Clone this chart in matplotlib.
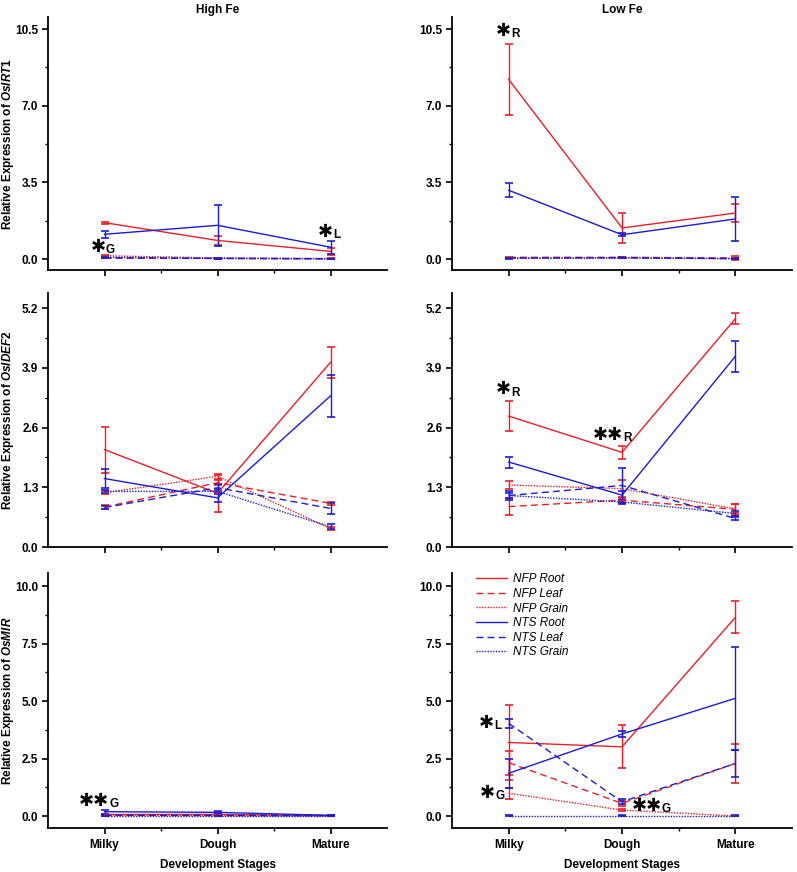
import numpy as np
import matplotlib.pyplot as plt
from matplotlib.lines import Line2D

plt.rcParams['font.family'] = ['Liberation Sans', 'DejaVu Sans']
plt.rcParams['font.weight'] = 'bold'
plt.rcParams['mathtext.fontset'] = 'custom'
plt.rcParams['mathtext.it'] = 'Liberation Sans:bold:italic'
plt.rcParams['mathtext.rm'] = 'Liberation Sans:bold'

stages = ['Milky', 'Dough', 'Mature']
series = ['NFP Root', 'NFP Leaf', 'NFP Grain', 'NTS Root', 'NTS Leaf', 'NTS Grain']

# values per series (rows follow `series`), columns follow `stages`
irt1_high = [[1.66, 0.85, 0.35],
             [0.05, 0.03, 0.02],
             [0.15, 0.05, 0.02],
             [1.13, 1.54, 0.54],
             [0.05, 0.03, 0.01],
             [0.08, 0.03, 0.01]]
irt1_high_err = [[0.05, 0.20, 0.15],
                 [0.02, 0.01, 0.01],
                 [0.03, 0.02, 0.01],
                 [0.17, 0.95, 0.30],
                 [0.02, 0.01, 0.01],
                 [0.02, 0.01, 0.01]]

irt1_low = [[8.20, 1.42, 2.10],
            [0.08, 0.08, 0.05],
            [0.05, 0.05, 0.02],
            [3.14, 1.11, 1.83],
            [0.05, 0.06, 0.02],
            [0.03, 0.05, 0.02]]
irt1_low_err = [[1.64, 0.69, 0.40],
                [0.03, 0.03, 0.08],
                [0.02, 0.02, 0.01],
                [0.33, 0.08, 1.02],
                [0.02, 0.02, 0.01],
                [0.01, 0.02, 0.01]]

idef2_high = [[2.12, 1.17, 4.02],
              [0.87, 1.40, 0.95],
              [1.18, 1.54, 0.40],
              [1.49, 1.07, 3.29],
              [0.86, 1.29, 0.84],
              [1.21, 1.21, 0.44]]
idef2_high_err = [[0.50, 0.40, 0.34],
                  [0.04, 0.05, 0.03],
                  [0.03, 0.05, 0.04],
                  [0.20, 0.10, 0.46],
                  [0.04, 0.08, 0.12],
                  [0.04, 0.05, 0.05]]

idef2_low = [[2.85, 2.06, 4.97],
             [0.88, 1.02, 0.82],
             [1.35, 1.27, 0.83],
             [1.85, 1.13, 4.15],
             [1.12, 1.34, 0.62],
             [1.12, 0.98, 0.73]]
idef2_low_err = [[0.33, 0.14, 0.12],
                 [0.19, 0.05, 0.12],
                 [0.09, 0.19, 0.10],
                 [0.12, 0.10, 0.34],
                 [0.05, 0.39, 0.04],
                 [0.10, 0.05, 0.05]]

mir_high = [[0.07, 0.07, 0.02],
            [0.05, 0.03, 0.02],
            [0.04, 0.02, 0.01],
            [0.19, 0.16, 0.03],
            [0.03, 0.03, 0.02],
            [0.02, 0.02, 0.02]]
mir_high_err = [[0.03, 0.03, 0.01],
                [0.01, 0.01, 0.01],
                [0.01, 0.01, 0.01],
                [0.08, 0.08, 0.02],
                [0.01, 0.01, 0.01],
                [0.01, 0.01, 0.01]]

mir_low = [[3.20, 3.01, 8.64],
           [2.32, 0.55, 2.29],
           [0.99, 0.26, 0.00],
           [1.86, 3.57, 5.12],
           [4.03, 0.62, 2.29],
           [0.02, 0.02, 0.02]]
mir_low_err = [[1.62, 0.93, 0.70],
               [0.53, 0.12, 0.84],
               [0.25, 0.06, 0.01],
               [0.62, 0.15, 2.25],
               [0.21, 0.10, 0.58],
               [0.01, 0.01, 0.01]]

# significance marks: (x letter start, y, stars, letter)
marks_irt1_high = [(0.01, 0.57, '✱', 'G'), (2.02, 1.22, '✱', 'L')]
marks_irt1_low = [(0.02, 10.4, '✱', 'R')]
marks_idef2_high = []
marks_idef2_low = [(0.02, 3.43, '✱', 'R'), (1.01, 2.43, '✱✱', 'R')]
marks_mir_high = [(0.04, 0.67, '✱✱', 'G')]
marks_mir_low = [(-0.13, 4.03, '✱', 'L'), (-0.12, 0.99, '✱', 'G'), (1.35, 0.43, '✱✱', 'G')]

red = '#e8202a'
blue = '#1c1cd0'
colors = [red, red, red, blue, blue, blue]
styles = ['-', (0, (5, 3)), (0, (1, 1)), '-', (0, (5, 3)), (0, (1, 1))]

fig = plt.figure(figsize=(7.97, 8.72), dpi=100)
W, H = 797, 872
lefts = [48, 452]
rights = [387, 792]
tops = [17, 293, 573]
bottoms = [270, 547, 828]

panels = [
    (irt1_high, irt1_high_err, marks_irt1_high, 'OsIRT1', (-0.5, 11.05), [0, 3.5, 7.0, 10.5]),
    (irt1_low, irt1_low_err, marks_irt1_low, 'OsIRT1', (-0.5, 11.05), [0, 3.5, 7.0, 10.5]),
    (idef2_high, idef2_high_err, marks_idef2_high, 'OsIDEF2', (0, 5.53), [0, 1.3, 2.6, 3.9, 5.2]),
    (idef2_low, idef2_low_err, marks_idef2_low, 'OsIDEF2', (0, 5.53), [0, 1.3, 2.6, 3.9, 5.2]),
    (mir_high, mir_high_err, marks_mir_high, 'OsMIR', (-0.52, 10.57), [0, 2.5, 5.0, 7.5, 10.0]),
    (mir_low, mir_low_err, marks_mir_low, 'OsMIR', (-0.52, 10.57), [0, 2.5, 5.0, 7.5, 10.0]),
]

x = np.arange(len(stages))
for i, (vals, errs, marks, gene, ylim, yticks) in enumerate(panels):
    row, col = i // 2, i % 2
    ax = fig.add_axes([lefts[col] / W, 1 - bottoms[row] / H,
                       (rights[col] - lefts[col]) / W, (bottoms[row] - tops[row]) / H])
    for k in range(len(series)):
        ax.errorbar(x, vals[k], yerr=errs[k], color=colors[k], ls=styles[k],
                    lw=1.0, elinewidth=1.0, capsize=3.2, capthick=1.2)
    ax.set_xlim(-0.5, 2.5)
    ax.set_ylim(*ylim)
    ax.set_yticks(yticks)
    step = yticks[1] - yticks[0]
    ax.set_yticks(np.arange(step / 2, ylim[1], step), minor=True)
    ax.set_yticklabels(['%.1f' % t for t in yticks], fontsize=8.5, fontweight='bold')
    ax.set_xticks(x)
    ax.set_xticks([0.5, 1.5], minor=True)
    for s in ['top', 'right']:
        ax.spines[s].set_visible(False)
    for s in ['left', 'bottom']:
        ax.spines[s].set_linewidth(1.3)
    ax.tick_params(which='major', direction='out', length=4, width=1.2, pad=3)
    ax.tick_params(which='minor', direction='out', length=2.5, width=1.0)
    if row == 2:
        ax.set_xticklabels(stages, fontsize=8.5, fontweight='bold')
        ax.tick_params(axis='x', pad=4)
        ax.set_xlabel('Development Stages', fontsize=8.5, fontweight='bold', labelpad=6)
    else:
        ax.set_xticklabels([])
    if col == 0:
        ax.set_ylabel('Relative Expression of $\\mathit{%s}$' % gene, fontsize=8.5,
                      fontweight='bold')
        ax.yaxis.set_label_coords(-0.093, 0.5)
    if row == 0:
        ax.set_title('High Fe' if col == 0 else 'Low Fe', fontsize=8.5, fontweight='bold', pad=3)
    for mx, my, stars, letter in marks:
        ax.text(mx, my, stars, fontsize=13, ha='right', va='center',
                family='DejaVu Sans', color='black')
        ax.text(mx, my - (ylim[1] - ylim[0]) * 0.012, letter, fontsize=8.5, ha='left',
                va='center', fontweight='bold')
    if i == 5:
        handles = [Line2D([], [], color=colors[k], ls=styles[k], lw=1.0) for k in range(len(series))]
        ax.legend(handles, series, loc='upper left', bbox_to_anchor=(0.04, 1.04), frameon=False,
                  prop={'style': 'italic', 'weight': 'normal', 'size': 8.5},
                  handlelength=2.6, labelspacing=0.22, handletextpad=0.5)

fig.savefig('out.png', dpi=100)
